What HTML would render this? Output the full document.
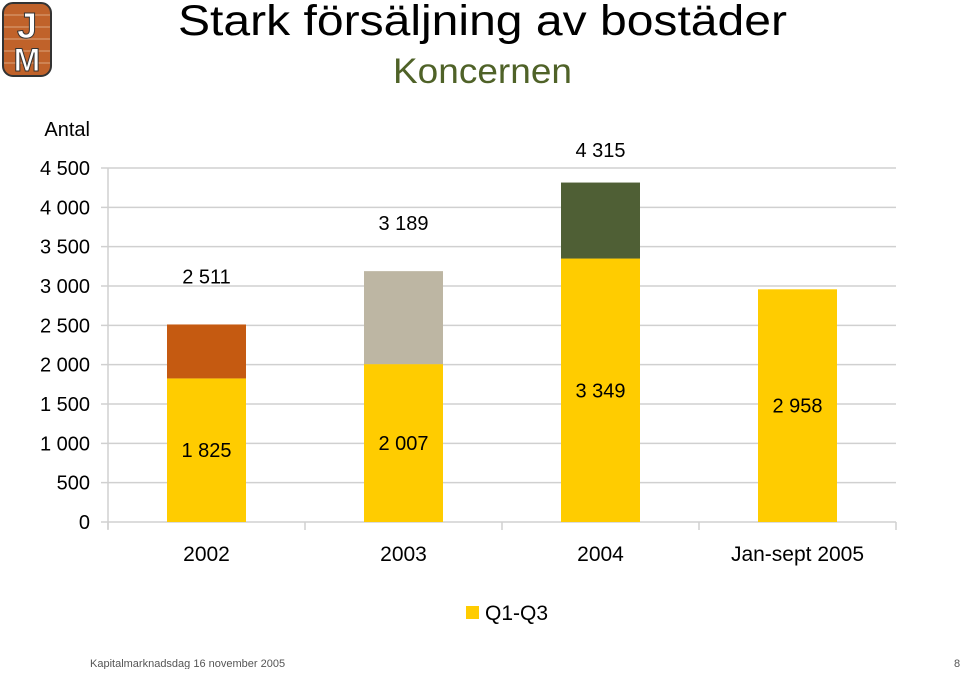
<!DOCTYPE html>
<html><head><meta charset="utf-8"><style>
body{margin:0;width:960px;height:669px;background:#fff;overflow:hidden;font-family:"Liberation Sans",sans-serif;}
text{font-family:"Liberation Sans",sans-serif;}
</style></head><body>
<svg width="960" height="669">
<g>
<rect x="3" y="3" width="48" height="73" rx="10" fill="#c0622a" stroke="#333" stroke-width="2"/>
<g stroke="#e8c0a0" stroke-width="1" opacity="0.7">
<line x1="4" y1="15" x2="50" y2="15"/><line x1="4" y1="27" x2="50" y2="27"/><line x1="4" y1="39" x2="50" y2="39"/><line x1="4" y1="51" x2="50" y2="51"/><line x1="4" y1="63" x2="50" y2="63"/>
</g>
<text x="27" y="38" font-family="Liberation Serif" font-weight="bold" font-size="36" fill="#fff" stroke="#333" stroke-width="1" text-anchor="middle">J</text>
<text x="27" y="71" font-family="Liberation Serif" font-weight="bold" font-size="32" fill="#fff" stroke="#333" stroke-width="1" text-anchor="middle">M</text>
</g>
<text x="178" y="35" font-size="43" textLength="609" lengthAdjust="spacingAndGlyphs" fill="#000">Stark försäljning av bostäder</text>
<text x="393" y="83" font-size="35" textLength="179" lengthAdjust="spacingAndGlyphs" fill="#4f6228">Koncernen</text>
<text x="90" y="136" font-size="20" text-anchor="end">Antal</text>
<g id="chart"></g>
<g>
<rect x="466" y="606" width="13" height="13" fill="#ffcc00"/>
<text x="485" y="620" font-size="21">Q1-Q3</text>
</g>
<text x="90" y="667" font-size="11" fill="#555">Kapitalmarknadsdag 16 november 2005</text>
<text x="954" y="667" font-size="11" fill="#555">8</text>
</svg>
<script>
const categories=["2002","2003","2004","Jan-sept 2005"];
const q1q3=[1825,2007,3349,2958];
const totals=[2511,3189,4315,null];
const topColors=["#c55a11","#bdb6a3","#4f5f35",null];
const yTicks=[0,500,1000,1500,2000,2500,3000,3500,4000,4500];
const tickLabels=["0","500","1 000","1 500","2 000","2 500","3 000","3 500","4 000","4 500"];
const fmt=v=>String(v).replace(/\B(?=(\d{3})+(?!\d))/g," ");
const NS="http://www.w3.org/2000/svg",g=document.getElementById('chart');
const L=108,R=896,Y0=522,Ymax=4500,H=354;
const y=v=>Y0-v/Ymax*H;
const bw=(R-L)/categories.length;
const x=i=>L+bw*i+bw/2;
function mk(t,a,txt){const e=document.createElementNS(NS,t);for(const k in a)e.setAttribute(k,a[k]);if(txt!=null)e.textContent=txt;g.appendChild(e);return e;}
yTicks.forEach((v,i)=>{
 const l=mk('line',{x1:101,x2:R,y1:y(v),y2:y(v),stroke:"#d0d0d0","stroke-width":1.5});
 
 
 const t=mk('text',{x:90,y:y(v)+7,"font-size":20,"text-anchor":"end"},tickLabels[i]);
 
 
});
mk('line',{x1:L,x2:L,y1:y(4500),y2:Y0+7,stroke:"#d0d0d0","stroke-width":1.5});
for(let i=0;i<=categories.length;i++)mk('line',{x1:L+bw*i,x2:L+bw*i,y1:Y0,y2:Y0+8,stroke:"#d0d0d0","stroke-width":1.5});
categories.forEach((c,i)=>{
 const b=mk('rect',{x:x(i)-39.5,width:79,y:y(q1q3[i]),height:Y0-y(q1q3[i]),fill:"#ffcc00"});
 
 
 const lb=mk('text',{x:x(i),y:(y(q1q3[i])+Y0)/2+7,"font-size":20,"text-anchor":"middle"},fmt(q1q3[i]));
 
 
 if(totals[i]!=null){
  const t=mk('rect',{x:x(i)-39.5,width:79,y:y(totals[i]),height:y(q1q3[i])-y(totals[i]),fill:topColors[i]});
  
  
  const tl=mk('text',{x:x(i),y:Math.max(y(totals[i])-41,157),"font-size":20,"text-anchor":"middle"},fmt(totals[i]));
  
  
 }
 const cl=mk('text',{x:x(i),y:561,"font-size":21,"text-anchor":"middle"},c);
 
 
});
</script>
</body></html>
